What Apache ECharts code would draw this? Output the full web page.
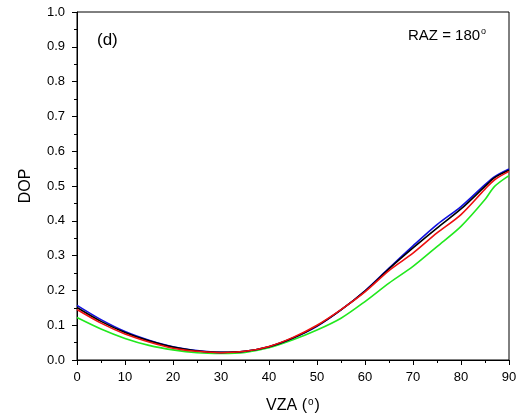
<!DOCTYPE html>
<html><head><meta charset="utf-8">
<script src="https://cdn.jsdelivr.net/npm/echarts@6/dist/echarts.min.js"></script>
<style>html,body{margin:0;padding:0;background:#fff}#c{width:516px;height:416px}</style>
</head><body><div id="c"></div>
<script>
const vza   = [0,5,10,15,20,25,30,35,40,45,50,55,60,65,70,75,80,85,87,90];
const blue  = [0.157,0.116,0.082,0.057,0.038,0.027,0.022,0.025,0.038,0.063,0.097,0.144,0.199,0.264,0.328,0.389,0.441,0.504,0.527,0.549];
const black = [0.151,0.111,0.079,0.055,0.037,0.026,0.022,0.025,0.038,0.063,0.098,0.144,0.198,0.262,0.322,0.379,0.434,0.499,0.524,0.545];
const red   = [0.145,0.106,0.075,0.052,0.034,0.025,0.021,0.025,0.039,0.065,0.100,0.145,0.196,0.257,0.307,0.365,0.418,0.491,0.518,0.542];
const green = [0.122,0.089,0.062,0.042,0.029,0.021,0.019,0.022,0.035,0.058,0.086,0.120,0.168,0.221,0.269,0.326,0.384,0.461,0.499,0.530];
const pair = a => vza.map((x,i)=>[x,a[i]]);
const font = 'Arial, "Liberation Sans", sans-serif';
const chart = echarts.init(document.getElementById('c'), null, {renderer:'canvas'});
const mk = (name,color,data)=>({name,type:'line',data:pair(data),smooth:0.3,showSymbol:false,
  lineStyle:{color,width:1.6},itemStyle:{color},z:3,animation:false});
chart.setOption({
  animation:false,
  grid:{left:77,right:7,top:12,bottom:56,containLabel:false,outerBoundsMode:'none',show:true,borderColor:'#000',borderWidth:1,backgroundColor:'transparent'},
  xAxis:{type:'value',min:0,max:90,interval:10,
    name:'{a|VZA (}{s|o}{a|)}',nameLocation:'middle',nameGap:37,
    nameTextStyle:{rich:{a:{fontSize:16,fontFamily:font,color:'#000'},s:{fontSize:10,fontFamily:font,color:'#000',verticalAlign:'top',padding:[0,1,8,1]}}},
    axisLine:{lineStyle:{color:'#000',width:1}},
    axisTick:{show:true,inside:false,length:5,lineStyle:{color:'#000'}},
    minorTick:{show:true,splitNumber:2,length:3,lineStyle:{color:'#000'}},
    axisLabel:{fontSize:13,fontFamily:font,color:'#000',margin:11},
    splitLine:{show:false}},
  yAxis:{type:'value',min:0,max:1,interval:0.1,
    name:'DOP',nameLocation:'middle',nameGap:43,nameRotate:90,
    nameTextStyle:{fontSize:16,fontFamily:font,color:'#000'},
    axisLine:{show:true,lineStyle:{color:'#000',width:1}},
    axisTick:{show:true,inside:false,length:5,lineStyle:{color:'#000'}},
    minorTick:{show:true,splitNumber:2,length:3,lineStyle:{color:'#000'}},
    axisLabel:{fontSize:13,fontFamily:font,color:'#000',margin:12,formatter:v=>v.toFixed(1)},
    splitLine:{show:false}},
  graphic:[
    {type:'text',left:97,top:32,style:{text:'(d)',font:'17px '+font,fill:'#000'}},
    {type:'text',left:408,top:27,style:{text:'{a|RAZ = 180}{s|o}',rich:{a:{font:'15px '+font,fill:'#000'},s:{font:'9px '+font,fill:'#000',verticalAlign:'top',padding:[0,0,8,1]}}}}
  ],
  series:[mk('green','#22e81e',green),mk('blue','#1010e0',blue),mk('black','#000',black),mk('red','#ee1010',red)]
});
</script></body></html>
